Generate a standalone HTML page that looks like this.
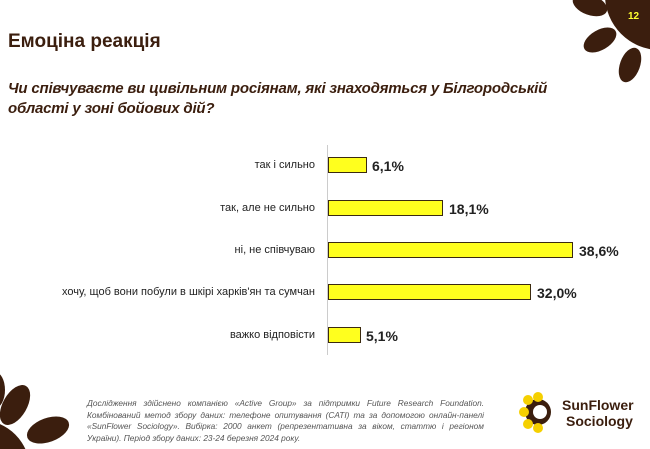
<!DOCTYPE html>
<html><head><meta charset="utf-8"><style>
body{margin:0;width:650px;height:449px;background:#fff;position:relative;overflow:hidden;font-family:"Liberation Sans","DejaVu Sans",sans-serif;}
.t{position:absolute;left:8px;top:31px;font-size:19px;font-weight:bold;color:#3b1e0e;}
.q{position:absolute;left:8px;top:79px;font-size:15px;font-weight:bold;font-style:italic;color:#3b1e0e;line-height:20px;letter-spacing:-0.2px;}
.lab{position:absolute;right:335px;font-size:11px;color:#222;text-align:right;white-space:nowrap;}
.bar{position:absolute;left:328px;height:16px;background:#ffff1e;border:1.5px solid #3b2a10;box-sizing:border-box;}
.v{position:absolute;font-size:14px;font-weight:bold;color:#222;}
.foot{position:absolute;left:87px;top:398px;width:397px;font-size:8.3px;font-style:italic;color:#555;line-height:11.5px;text-align:justify;}
</style></head><body>
<div class="t">Емоціна реакція</div>
<div class="q">Чи співчуваєте ви цивільним росіянам, які знаходяться у Білгородській<br>області у зоні бойових дій?</div>
<div style="position:absolute;left:327px;top:145px;width:1px;height:210px;background:#ccc"></div>

<div class="lab" style="top:159px">так і сильно</div>
<div class="bar" style="top:157px;width:39px"></div>
<div class="v" style="left:372px;top:158px">6,1%</div>

<div class="lab" style="top:202px">так, але не сильно</div>
<div class="bar" style="top:200px;width:115px"></div>
<div class="v" style="left:449px;top:201px">18,1%</div>

<div class="lab" style="top:244px">ні, не співчуваю</div>
<div class="bar" style="top:242px;width:245px"></div>
<div class="v" style="left:579px;top:243px">38,6%</div>

<div class="lab" style="top:286px">хочу, щоб вони побули в шкірі харків'ян та сумчан</div>
<div class="bar" style="top:284px;width:203px"></div>
<div class="v" style="left:537px;top:285px">32,0%</div>

<div class="lab" style="top:329px">важко відповісти</div>
<div class="bar" style="top:327px;width:33px"></div>
<div class="v" style="left:366px;top:328px">5,1%</div>

<div class="foot">Дослідження здійснено компанією «Active Group» за підтримки Future Research Foundation. Комбінований метод збору даних: телефоне опитування (CATI) та за допомогою онлайн-панелі «SunFlower Sociology». Вибірка: 2000 анкет (репрезентативна за віком, статтю і регіоном України). Період збору даних: 23-24 березня 2024 року.</div>

<svg style="position:absolute;left:0;top:0" width="650" height="449">
<g fill="#3b1e0e">
<circle cx="660" cy="-5" r="55"/>
<ellipse cx="590" cy="5" rx="18" ry="10" transform="rotate(20 590 5)"/>
<ellipse cx="600" cy="40" rx="18" ry="10" transform="rotate(-30 600 40)"/>
<ellipse cx="630" cy="65" rx="18" ry="10" transform="rotate(-70 630 65)"/>
<circle cx="-20" cy="470" r="50"/>
<ellipse cx="15" cy="405" rx="22" ry="12" transform="rotate(-60 15 405)"/>
<ellipse cx="48" cy="430" rx="22" ry="12" transform="rotate(-20 48 430)"/>
<ellipse cx="-5" cy="390" rx="10" ry="18"/>
</g>
<text x="628" y="19" font-size="10" font-weight="bold" fill="#ffff30" font-family="Liberation Sans">12</text>
<g>
<circle cx="538" cy="412" r="13" fill="#3b1e0e"/>
<g fill="#f5d000"><circle cx="528" cy="400" r="5"/><circle cx="524" cy="412" r="5"/><circle cx="528" cy="424" r="5"/><circle cx="538" cy="428" r="5"/><circle cx="538" cy="397" r="5"/></g>
<circle cx="540" cy="412" r="7" fill="#fff"/>
</g>
<text x="562" y="410" font-size="14" font-weight="bold" fill="#3b1e0e" font-family="Liberation Sans">SunFlower</text>
<text x="566" y="426" font-size="14" font-weight="bold" fill="#3b1e0e" font-family="Liberation Sans">Sociology</text>
</svg>
</body></html>
